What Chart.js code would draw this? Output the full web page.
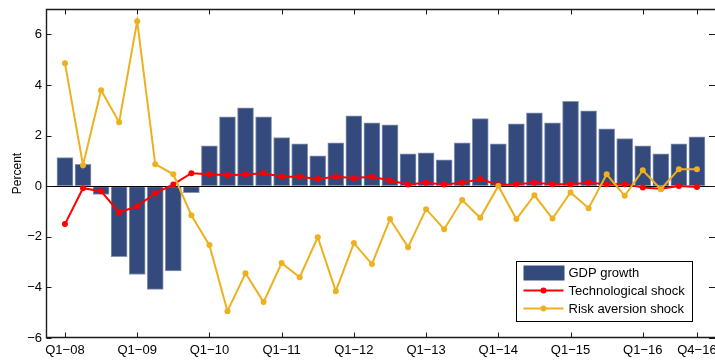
<!DOCTYPE html>
<html>
<head>
<meta charset="utf-8">
<script src="https://cdn.jsdelivr.net/npm/chart.js@4.4.1/dist/chart.umd.min.js"></script>
<style>
  html, body { margin: 0; padding: 0; background: #fff; }
  #chart { display: block; }
</style>
</head>
<body>
<canvas id="chart" width="715" height="360"></canvas>
<script>
// quarterly data, Q1-08 .. Q4-16
const quarters = [
  'Q1-08', 'Q2-08', 'Q3-08', 'Q4-08',
  'Q1-09', 'Q2-09', 'Q3-09', 'Q4-09',
  'Q1-10', 'Q2-10', 'Q3-10', 'Q4-10',
  'Q1-11', 'Q2-11', 'Q3-11', 'Q4-11',
  'Q1-12', 'Q2-12', 'Q3-12', 'Q4-12',
  'Q1-13', 'Q2-13', 'Q3-13', 'Q4-13',
  'Q1-14', 'Q2-14', 'Q3-14', 'Q4-14',
  'Q1-15', 'Q2-15', 'Q3-15', 'Q4-15',
  'Q1-16', 'Q2-16', 'Q3-16', 'Q4-16'
];

const gdpGrowth = [1.13, 0.86, -0.33, -2.79, -3.49, -4.08, -3.35, -0.26,
  1.59, 2.74, 3.09, 2.74, 1.92, 1.67, 1.20, 1.71,
  2.78, 2.50, 2.42, 1.28, 1.32, 1.04, 1.71, 2.67,
  1.67, 2.46, 2.90, 2.50, 3.35, 2.98, 2.27, 1.88,
  1.59, 1.28, 1.67, 1.95];

const techShock = [-1.50, -0.08, -0.20, -1.04, -0.79, -0.28, 0.07, 0.51,
  0.47, 0.43, 0.46, 0.51, 0.37, 0.37, 0.28, 0.37,
  0.32, 0.37, 0.22, 0.07, 0.13, 0.07, 0.13, 0.28,
  0.05, 0.08, 0.13, 0.08, 0.08, 0.13, 0.08, 0.08,
  -0.05, -0.10, 0.01, -0.03];

const riskShock = [4.86, 0.83, 3.79, 2.53, 6.52, 0.87, 0.47, -1.15,
  -2.33, -4.94, -3.44, -4.58, -3.04, -3.60, -2.02, -4.15,
  -2.25, -3.08, -1.30, -2.41, -0.91, -1.70, -0.55, -1.25,
  0.01, -1.30, -0.36, -1.28, -0.25, -0.87, 0.47, -0.38,
  0.63, -0.12, 0.67, 0.67];

const xTickLabels = ['Q1-08', 'Q1-09', 'Q1-10', 'Q1-11', 'Q1-12', 'Q1-13', 'Q1-14', 'Q1-15', 'Q1-16', 'Q4-16'];
const yTicks = [-6, -4, -2, 0, 2, 4, 6];

const seriesNames = ['GDP growth', 'Technological shock', 'Risk aversion shock'];

const BAR = '#344a7d';
const RED = '#ff0000';
const ORANGE = '#edb120';

const xTickPos = xTickLabels.map(l => quarters.indexOf(l));
const minus = s => s.replace('-', '\u2212');
const pts = arr => arr.map((v, i) => ({ x: i, y: v }));

Chart.defaults.font.family = "'Liberation Sans', Arial, sans-serif";
Chart.defaults.font.size = 13;
Chart.defaults.color = '#000';

// zero line, axes lines with inward ticks, and the legend
const frame = {
  id: 'frame',
  afterDatasetDraw(chart, args) {
    if (args.index !== 0) return;
    const { ctx, chartArea: a, scales: { y } } = chart;
    const y0 = Math.round(y.getPixelForValue(0)) + 0.5;
    ctx.save();
    ctx.strokeStyle = '#000';
    ctx.lineWidth = 1;
    ctx.beginPath();
    ctx.moveTo(a.left, y0);
    ctx.lineTo(a.right, y0);
    ctx.stroke();
    ctx.restore();
  },
  afterDraw(chart) {
    const { ctx, chartArea: a, scales: { x, y } } = chart;
    const L = Math.round(a.left) + 0.5, R = Math.round(a.right);
    const T = Math.round(a.top) + 0.5, B = Math.round(a.bottom) - 0.5;
    ctx.save();
    ctx.strokeStyle = '#1a1a1a';
    ctx.lineWidth = 1;
    ctx.beginPath();
    x.ticks.forEach(t => {
      const px = Math.round(x.getPixelForValue(t.value)) + 0.5;
      ctx.moveTo(px, B); ctx.lineTo(px, B - 5);
      ctx.moveTo(px, T); ctx.lineTo(px, T + 5);
    });
    y.ticks.forEach(t => {
      const py = Math.round(y.getPixelForValue(t.value)) + 0.5;
      ctx.moveTo(L, py); ctx.lineTo(L + 5, py);
      ctx.moveTo(R, py); ctx.lineTo(R - 6, py);
    });
    ctx.stroke();
    // right axis falls just off the canvas, as in the source figure
    ctx.lineWidth = 1.4;
    ctx.beginPath();
    ctx.moveTo(R, T); ctx.lineTo(L, T); ctx.lineTo(L, B); ctx.lineTo(R, B);
    ctx.stroke();

    // legend, lower right inside the plot
    const bw = 176, bh = 60;
    const bx = Math.round(a.right - 23 - bw) + 0.5;
    const by = Math.round(a.bottom - 17 - bh) + 0.5;
    ctx.fillStyle = '#fff';
    ctx.fillRect(bx, by, bw, bh);
    ctx.lineWidth = 1;
    ctx.strokeStyle = '#000';
    ctx.strokeRect(bx, by, bw, bh);

    const sx = bx + 7, tx = bx + 52;
    const rows = [by + 11, by + 29, by + 47];
    ctx.fillStyle = BAR;
    ctx.fillRect(sx, rows[0] - 7, 41, 15);
    [RED, ORANGE].forEach((c, k) => {
      const ry = rows[k + 1];
      ctx.strokeStyle = c;
      ctx.fillStyle = c;
      ctx.lineWidth = 2;
      ctx.beginPath();
      ctx.moveTo(sx, ry); ctx.lineTo(sx + 40, ry);
      ctx.stroke();
      ctx.beginPath();
      ctx.arc(sx + 20, ry, 3, 0, Math.PI * 2);
      ctx.fill();
    });
    ctx.fillStyle = '#000';
    ctx.font = "13px 'Liberation Sans', Arial, sans-serif";
    ctx.textBaseline = 'middle';
    ctx.textAlign = 'left';
    seriesNames.forEach((n, k) => ctx.fillText(n, tx, rows[k] + 1));
    ctx.restore();
  }
};

new Chart(document.getElementById('chart'), {
  type: 'bar',
  data: {
    datasets: [{
      type: 'bar',
      label: seriesNames[0],
      data: pts(gdpGrowth),
      backgroundColor: BAR,
      borderColor: '#8794b3',
      borderWidth: 1,
      borderSkipped: false,
      barThickness: 16,
      order: 3
    }, {
      type: 'line',
      label: seriesNames[1],
      data: pts(techShock),
      borderColor: RED,
      backgroundColor: RED,
      borderWidth: 2,
      pointRadius: 3,
      pointBorderWidth: 0,
      tension: 0,
      order: 2
    }, {
      type: 'line',
      label: seriesNames[2],
      data: pts(riskShock),
      borderColor: ORANGE,
      backgroundColor: ORANGE,
      borderWidth: 2,
      pointRadius: 3,
      pointBorderWidth: 0,
      tension: 0,
      order: 1
    }]
  },
  options: {
    responsive: false,
    animation: false,
    devicePixelRatio: 1,
    layout: { autoPadding: false, padding: { top: 9, left: 0, right: 0, bottom: 0 } },
    plugins: {
      legend: { display: false },
      tooltip: { enabled: false }
    },
    scales: {
      x: {
        type: 'linear',
        min: -1.05,
        max: 36,
        offset: false,
        grid: { display: false, drawTicks: false },
        border: { display: false },
        afterBuildTicks: s => { s.ticks = xTickPos.map(v => ({ value: v })); },
        afterFit: s => { s.height = 22; s.paddingLeft = 0; s.paddingRight = 0; },
        ticks: {
          autoSkip: false,
          maxRotation: 0,
          padding: 5,
          callback: v => minus(quarters[v])
        }
      },
      y: {
        min: -6,
        max: 7,
        grid: { drawTicks: false, color: 'rgba(0,0,0,0)' },
        border: { display: false },
        afterBuildTicks: s => { s.ticks = yTicks.map(v => ({ value: v })); },
        afterFit: s => { s.width = 46; s.paddingTop = 0; s.paddingBottom = 0; },
        ticks: {
          padding: 4,
          callback: v => minus(String(v))
        },
        title: {
          display: true,
          text: 'Percent',
          font: { size: 12 },
          padding: { top: 10, bottom: 0 }
        }
      }
    }
  },
  plugins: [frame]
});
</script>
</body>
</html>
